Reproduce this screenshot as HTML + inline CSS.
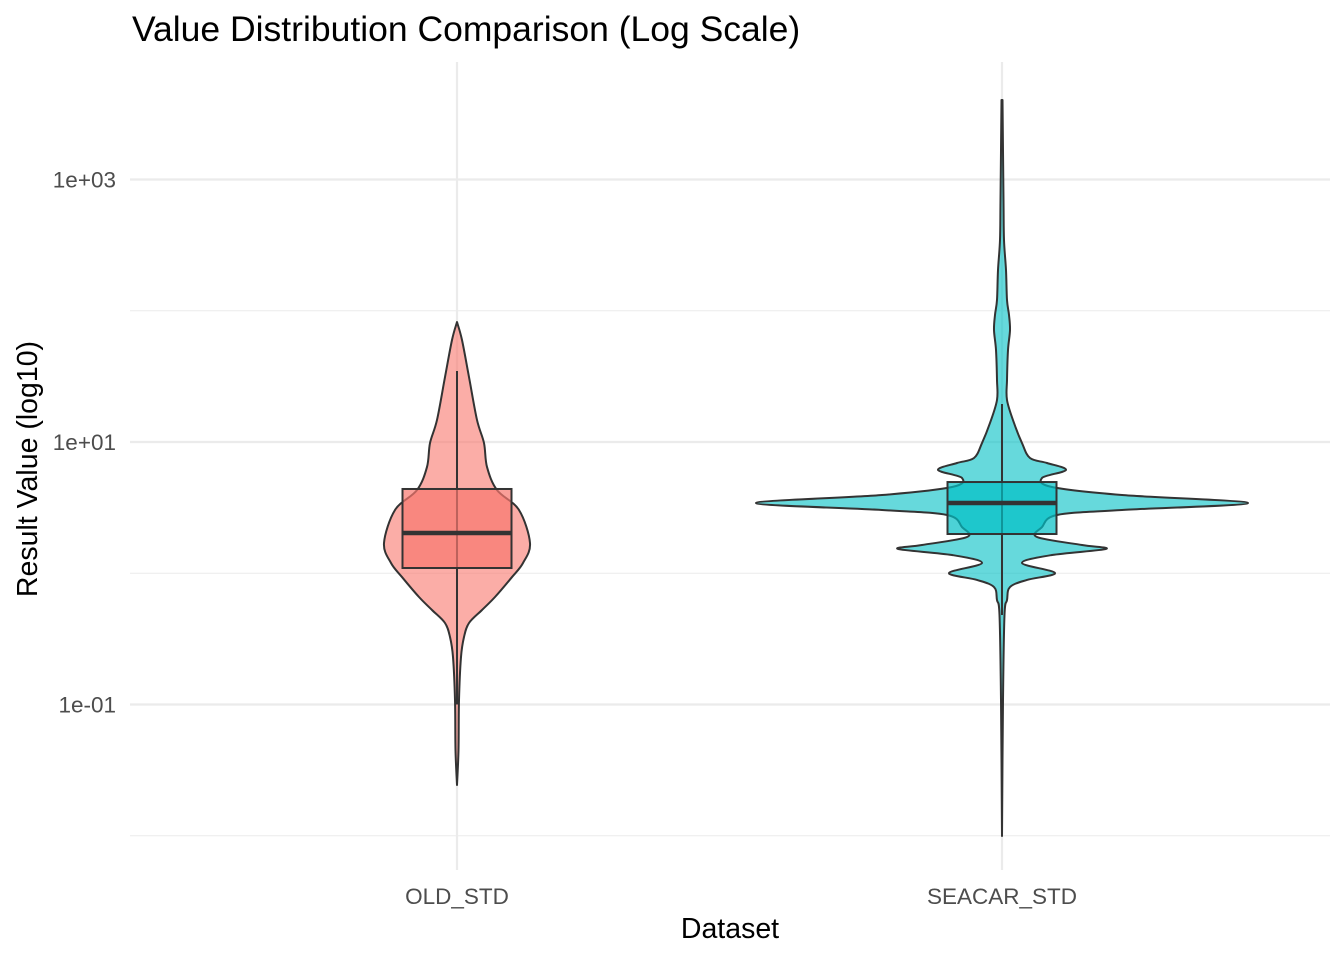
<!DOCTYPE html>
<html><head><meta charset="utf-8"><style>
body{margin:0;background:#fff;}
svg text{font-family:"Liberation Sans",sans-serif;}
</style></head><body>
<svg id="chart" width="1344" height="960" xmlns="http://www.w3.org/2000/svg">
<text x="132" y="41" font-size="35.5" fill="#000">Value Distribution Comparison (Log Scale)</text>
<g id="grid"></g>
<g id="marks"></g>
<g id="axes"></g>
<text x="730" y="938" font-size="28.5" text-anchor="middle" fill="#000">Dataset</text>
<text transform="translate(37,469) rotate(-90)" font-size="28.5" text-anchor="middle" fill="#000">Result Value (log10)</text>
</svg>
<script>
const categories = ["OLD_STD", "SEACAR_STD"];
const fills = ["#F8766D", "#00BFC4"];
const yMajorTicks = [-1, 1, 3];
const yMajorLabels = ["1e-01", "1e+01", "1e+03"];
const yMinorTicks = [-2, 0, 2];
// violin profiles: log10 value, density (half-width units)
const oldLog = [1.914,1.777,1.495,1.168,0.992,0.810,0.634,0.482,0.230,0.078,-0.029,-0.181,-0.280,-0.379,-0.486,-0.638,-0.966,-1.347,-1.613];
const oldDens = [0,5,12,20,27,30,40,62,73,66,55,38,25,12,7,4,2,1.5,0];
const seaLog = [3.606,2.844,2.539,2.310,2.082,1.968,1.853,1.701,1.472,1.320,1.145,0.992,0.878,0.840,0.787,0.726,0.657,0.596,0.535,0.482,0.444,0.352,0.276,0.215,0.185,0.139,0.078,0.002,-0.051,-0.105,-0.204,-0.318,-0.966,-2.002];
const seaDens = [0.5,1.5,2,4,5,7,8,6,5,5,12,20,28,45,64,40,50,120,246,120,55,40,35,80,104,50,20,53,25,8,5,2.5,1,0];
// box stats (log10): q1, median, q3, whisker low, whisker high
const oldBox = [0.040, 0.307, 0.642, -1.0, 1.541];
const seaBox = [0.299, 0.535, 0.695, -0.318, 1.290];

const NS = "http://www.w3.org/2000/svg";
const yScale = v => 442 - (v - 1) * 131.25;
const xScale = i => 457 + i * 545;
const wScale = d => d;
const boxHalf = 54.5;
function mk(tag, attrs, parent){const e=document.createElementNS(NS,tag);for(const k in attrs)e.setAttribute(k,attrs[k]);parent.appendChild(e);return e;}
function smooth(pts){
  let d=`M${pts[0][0]},${pts[0][1]}`;
  for(let i=0;i<pts.length-1;i++){
    const p0=pts[Math.max(0,i-1)],p1=pts[i],p2=pts[i+1],p3=pts[Math.min(pts.length-1,i+2)];
    const c1=[p1[0]+(p2[0]-p0[0])/6,p1[1]+(p2[1]-p0[1])/6];
    const c2=[p2[0]-(p3[0]-p1[0])/6,p2[1]-(p3[1]-p1[1])/6];
    d+=` C${c1[0]},${c1[1]} ${c2[0]},${c2[1]} ${p2[0]},${p2[1]}`;
  }
  return d;
}
const grid=document.getElementById('grid'), marks=document.getElementById('marks'), axes=document.getElementById('axes');
yMinorTicks.forEach(t=>{const l=mk('line',{x1:130,x2:1330,y1:yScale(t),y2:yScale(t),stroke:'#ebebeb','stroke-width':1.1},grid);

});
yMajorTicks.forEach((t,i)=>{const l=mk('line',{x1:130,x2:1330,y1:yScale(t),y2:yScale(t),stroke:'#ebebeb','stroke-width':2.2},grid);


const tx=mk('text',{x:116,y:yScale(t)+8,'font-size':22.5,'text-anchor':'end',fill:'#4d4d4d'},axes);tx.textContent=yMajorLabels[i];

});
categories.forEach((c,i)=>{const l=mk('line',{x1:xScale(i),x2:xScale(i),y1:62,y2:870,stroke:'#ebebeb','stroke-width':2.2},grid);


const tx=mk('text',{x:xScale(i),y:904,'font-size':22.5,'text-anchor':'middle',fill:'#4d4d4d'},axes);tx.textContent=c;

});
const profiles=[[oldLog,oldDens,oldBox],[seaLog,seaDens,seaBox]];
profiles.forEach(([lg,ds,bx],i)=>{
  const cx=xScale(i);
  const right=lg.map((v,j)=>[cx+wScale(ds[j]),yScale(v)]);
  const left=lg.map((v,j)=>[cx-wScale(ds[j]),yScale(v)]).reverse();
  const d=smooth(right)+' L'+smooth(left).slice(1)+' Z';
  const p=mk('path',{d:d,fill:fills[i],'fill-opacity':0.6,stroke:'#333','stroke-width':2,'stroke-linejoin':'round'},marks);
  
  
  const w=mk('line',{x1:cx,x2:cx,y1:yScale(bx[3]),y2:yScale(bx[4]),stroke:'#333','stroke-width':2},marks);
  
  
  const r=mk('rect',{x:cx-boxHalf,y:yScale(bx[2]),width:boxHalf*2,height:yScale(bx[0])-yScale(bx[2]),fill:fills[i],'fill-opacity':0.7,stroke:'#333','stroke-width':2},marks);
  
  
  const m=mk('line',{x1:cx-boxHalf,x2:cx+boxHalf,y1:yScale(bx[1]),y2:yScale(bx[1]),stroke:'#333','stroke-width':4.5},marks);
  
  
});
</script>
</body></html>
